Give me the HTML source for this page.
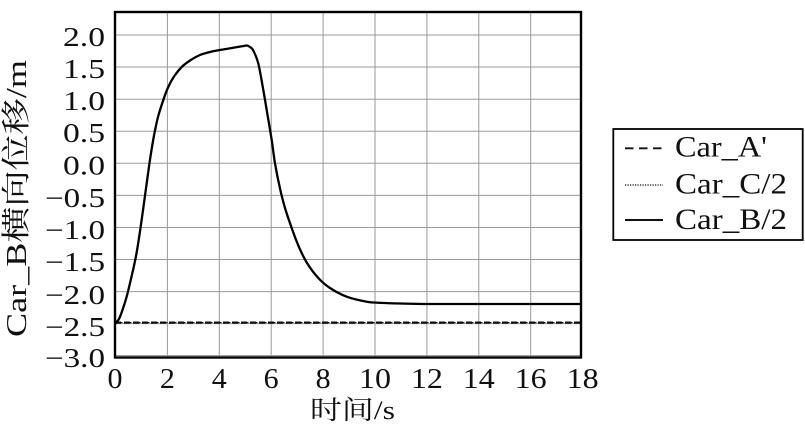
<!DOCTYPE html>
<html>
<head>
<meta charset="utf-8">
<style>
  html,body{margin:0;padding:0;background:#fff;}
  svg{display:block;}
  text{font-family:"Liberation Serif","Noto Serif CJK SC","Noto Sans CJK SC",serif;fill:#111;}
</style>
</head>
<body>
<svg width="805" height="430" viewBox="0 0 805 430" xmlns="http://www.w3.org/2000/svg">
  <rect x="0" y="0" width="805" height="430" fill="#fff"/>

  <!-- grid -->
  <g stroke="#9a9a9a" stroke-width="1" fill="none">
    <line x1="115" y1="35" x2="581" y2="35"/>
    <line x1="115" y1="67" x2="581" y2="67"/>
    <line x1="115" y1="99.2" x2="581" y2="99.2"/>
    <line x1="115" y1="131.3" x2="581" y2="131.3"/>
    <line x1="115" y1="163.3" x2="581" y2="163.3"/>
    <line x1="115" y1="195.4" x2="581" y2="195.4"/>
    <line x1="115" y1="227.5" x2="581" y2="227.5"/>
    <line x1="115" y1="259.5" x2="581" y2="259.5"/>
    <line x1="115" y1="291.6" x2="581" y2="291.6"/>
    <line x1="115" y1="323.6" x2="581" y2="323.6"/>
    <line x1="115" y1="355.5" x2="581" y2="355.5"/>
    <line x1="167.4" y1="12" x2="167.4" y2="357.5"/>
    <line x1="219.3" y1="12" x2="219.3" y2="357.5"/>
    <line x1="271.2" y1="12" x2="271.2" y2="357.5"/>
    <line x1="323.1" y1="12" x2="323.1" y2="357.5"/>
    <line x1="375" y1="12" x2="375" y2="357.5"/>
    <line x1="426.9" y1="12" x2="426.9" y2="357.5"/>
    <line x1="478.8" y1="12" x2="478.8" y2="357.5"/>
    <line x1="530.7" y1="12" x2="530.7" y2="357.5"/>
  </g>

  <!-- Car_A' dashed and Car_C/2 dotted (overlapping) -->
  <line x1="115" y1="322.6" x2="581" y2="322.6" stroke="#111" stroke-width="2.2" stroke-dasharray="6 3"/>
  <line x1="115" y1="322.6" x2="581" y2="322.6" stroke="#111" stroke-width="1.2" stroke-dasharray="1.5 1.5"/>

  <!-- Car_B/2 -->
  <path id="carB" fill="none" stroke="#000" stroke-width="2.3" stroke-linejoin="round" stroke-linecap="round"
    d="M115.5,323 L119,319 L122.5,310 L126.7,296.5 L130.5,281 L133.5,268 L136,256 L138,244.5 L140.5,228 L144,203 L147,181 L149.5,163 L152,147 L154.5,133 L158,117 L163.3,100 L168,87.5 L174,76.5 L181.7,67 L190,60.5 L200,55 L210,52 L220,50 L232,48 L242,46.3 L247,45.5 L250,47 L253.3,50.5 L258.3,63.5 L263.3,90 L266.7,110 L271.7,140 L275,163.3 L280,188.5 L285,208 L291.7,228 L298.3,245.5 L306.7,262.5 L318.3,278 L330,288 L346.7,296.7 L366.7,301.7 L380,302.8 L400,303.5 L430,304 L581,304"/>

  <!-- axes frame -->
  <rect x="115" y="12" width="466" height="345.5" fill="none" stroke="#000" stroke-width="2.4"/>

  <!-- y tick labels -->
  <g font-size="27" text-anchor="end">
    <text x="105" y="46" textLength="42" lengthAdjust="spacingAndGlyphs">2.0</text>
    <text x="105" y="78" textLength="42" lengthAdjust="spacingAndGlyphs">1.5</text>
    <text x="105" y="110" textLength="42" lengthAdjust="spacingAndGlyphs">1.0</text>
    <text x="105" y="142" textLength="42" lengthAdjust="spacingAndGlyphs">0.5</text>
    <text x="105" y="174.5" textLength="42" lengthAdjust="spacingAndGlyphs">0.0</text>
    <text x="105" y="207" textLength="60" lengthAdjust="spacingAndGlyphs">−0.5</text>
    <text x="105" y="239" textLength="60" lengthAdjust="spacingAndGlyphs">−1.0</text>
    <text x="105" y="271" textLength="60" lengthAdjust="spacingAndGlyphs">−1.5</text>
    <text x="105" y="304" textLength="60" lengthAdjust="spacingAndGlyphs">−2.0</text>
    <text x="105" y="336" textLength="60" lengthAdjust="spacingAndGlyphs">−2.5</text>
    <text x="105" y="367" textLength="60" lengthAdjust="spacingAndGlyphs">−3.0</text>
  </g>

  <!-- x tick labels -->
  <g font-size="28" text-anchor="middle">
    <text x="115" y="388" textLength="15" lengthAdjust="spacingAndGlyphs">0</text>
    <text x="167.4" y="388" textLength="15" lengthAdjust="spacingAndGlyphs">2</text>
    <text x="219.3" y="388" textLength="15" lengthAdjust="spacingAndGlyphs">4</text>
    <text x="271.2" y="388" textLength="15" lengthAdjust="spacingAndGlyphs">6</text>
    <text x="323.1" y="388" textLength="15" lengthAdjust="spacingAndGlyphs">8</text>
    <text x="375" y="388" textLength="32" lengthAdjust="spacingAndGlyphs">10</text>
    <text x="426.9" y="388" textLength="32" lengthAdjust="spacingAndGlyphs">12</text>
    <text x="478.8" y="388" textLength="32" lengthAdjust="spacingAndGlyphs">14</text>
    <text x="530.7" y="388" textLength="32" lengthAdjust="spacingAndGlyphs">16</text>
    <text x="582.6" y="388" textLength="32" lengthAdjust="spacingAndGlyphs">18</text>
  </g>

  <!-- axis titles -->
  <text x="352.5" y="419" font-size="26" text-anchor="middle" textLength="85" lengthAdjust="spacingAndGlyphs">时间/s</text>
  <text transform="translate(26,198.5) rotate(-90)" x="0" y="0" font-size="29" text-anchor="middle" textLength="277" lengthAdjust="spacingAndGlyphs">Car_B横向位移/m</text>

  <!-- legend -->
  <rect x="613.3" y="129" width="189.4" height="111" fill="#fff" stroke="#000" stroke-width="1.8"/>
  <line x1="625" y1="148.3" x2="663" y2="148.3" stroke="#111" stroke-width="1.8" stroke-dasharray="8.5 5.5"/>
  <line x1="625" y1="185" x2="663" y2="185" stroke="#111" stroke-width="1.3" stroke-dasharray="1.2 1.3"/>
  <line x1="625" y1="220" x2="663" y2="220" stroke="#111" stroke-width="2"/>
  <g font-size="30">
    <text x="675" y="156.7" textLength="92" lengthAdjust="spacingAndGlyphs">Car_A'</text>
    <text x="675" y="193.3" textLength="112" lengthAdjust="spacingAndGlyphs">Car_C/2</text>
    <text x="675" y="229" textLength="112" lengthAdjust="spacingAndGlyphs">Car_B/2</text>
  </g>
</svg>
<script>
(function(){
  var pts=[[115.5,323],[119,319],[122.5,310],[126.7,296.5],[130.5,281],[133.5,268],[136,256],[138,244.5],[140.5,228],[144,203],[147,181],[149.5,163],[152,147],[154.5,133],[158,117],[163.3,100],[168,87.5],[174,76.5],[181.7,67],[190,60.5],[200,55],[210,52],[220,50],[232,48],[242,46.3],[247,45.5],[250,47],[253.3,50.5],[258.3,63.5],[263.3,90],[266.7,110],[271.7,140],[275,163.3],[280,188.5],[285,208],[291.7,228],[298.3,245.5],[306.7,262.5],[318.3,278],[330,288],[346.7,296.7],[366.7,301.7],[380,302.8],[400,303.5],[430,304],[505,304],[581,304]];
  var d='M'+pts[0][0]+','+pts[0][1];
  for(var i=0;i<pts.length-1;i++){
    var p0=pts[i-1]||pts[i],p1=pts[i],p2=pts[i+1],p3=pts[i+2]||pts[i+1];
    var c1x=p1[0]+(p2[0]-p0[0])/6,c1y=p1[1]+(p2[1]-p0[1])/6;
    var c2x=p2[0]-(p3[0]-p1[0])/6,c2y=p2[1]-(p3[1]-p1[1])/6;
    d+=' C'+c1x.toFixed(2)+','+c1y.toFixed(2)+' '+c2x.toFixed(2)+','+c2y.toFixed(2)+' '+p2[0]+','+p2[1];
  }
  var el=document.getElementById('carB');
  if(el) el.setAttribute('d',d);
})();
</script>
</body>
</html>
